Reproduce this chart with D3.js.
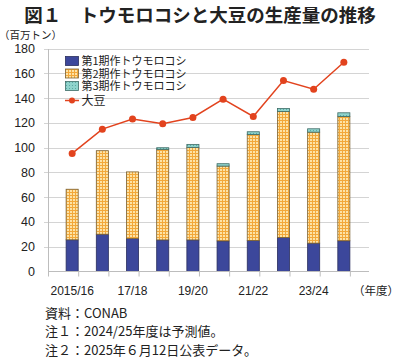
<!DOCTYPE html>
<html><head><meta charset="utf-8">
<script src="https://cdn.jsdelivr.net/npm/d3@7"></script>
<style>
body{margin:0;background:#fff;}
text{font-family:"Noto Sans CJK JP","Noto Sans",sans-serif;}
</style></head>
<body><svg id="c" width="400" height="357"></svg>
<script>
const categories = ["2015/16","2016/17","2017/18","2018/19","2019/20","2020/21","2021/22","2022/23","2023/24","2024/25"];
const tickLabels = ["2015/16","","17/18","","19/20","","21/22","","23/24",""];
const crop1 = [25.6, 30.1, 26.6, 25.5, 25.5, 24.7, 25.0, 27.4, 22.9, 24.8];
const crop2 = [40.8, 67.4, 53.8, 73.1, 74.7, 60.4, 85.6, 101.8, 89.6, 100.4];
const crop3 = [0, 0, 0, 1.3, 2.4, 1.9, 2.2, 2.4, 2.7, 2.9];
const soy = [95.3, 114.9, 123.0, 119.2, 124.3, 139.1, 125.1, 154.1, 147.1, 168.9];
const yTicks = [0,20,40,60,80,100,120,140,160,180];
const legendLabels = ["第1期作トウモロコシ","第2期作トウモロコシ","第3期作トウモロコシ","大豆"];
const notes = ["資料：CONAB","注１：2024/25年度は予測値。","注２：2025年６月12日公表データ。"];

const svg = d3.select("#c");
const defs = svg.append("defs");
const p2 = defs.append("pattern").attr("id","p2").attr("patternUnits","userSpaceOnUse").attr("width",3).attr("height",3);
p2.append("rect").attr("width",3).attr("height",3).attr("fill","#fde3a6");
p2.append("path").attr("d","M0,0.5H3M0.5,0V3").attr("stroke","#f2a83a").attr("stroke-width",1);
const p3 = defs.append("pattern").attr("id","p3").attr("patternUnits","userSpaceOnUse").attr("width",3).attr("height",3);
p3.append("rect").attr("width",3).attr("height",3).attr("fill","#8fd3cc");
p3.append("rect").attr("x",1).attr("y",1).attr("width",1).attr("height",1).attr("fill","#5aa9a3");

const x = d3.scaleBand().domain(categories).range([48,368]).padding(0.6);
const y = d3.scaleLinear().domain([0,180]).range([271.5,48.5]);

// title
svg.append("text").attr("x",200).attr("y",22).attr("text-anchor","middle")
  .attr("font-size",18.5).attr("font-weight","bold").attr("fill","#222")
  .text("図１　トウモロコシと大豆の生産量の推移");
svg.append("text").attr("x",-1).attr("y",39).attr("font-size",10.5).attr("fill","#222").text("（百万トン）");

// grid
svg.append("g").selectAll("line").data(yTicks.filter(d=>d>0)).join("line")
  .attr("x1",44).attr("x2",369).attr("y1",d=>Math.round(y(d))+0.5).attr("y2",d=>Math.round(y(d))+0.5)
  .attr("stroke","#d4d4d4").attr("stroke-width",1);
// y axis
const ya = svg.append("g").attr("transform","translate(48,0)")
  .call(d3.axisLeft(y).tickValues(yTicks).tickSize(0).tickPadding(13));
ya.select(".domain").attr("stroke","#bdbdbd");
ya.selectAll("text").attr("font-size",12.5).attr("fill","#222").style("font-family","'Liberation Sans',Arial,sans-serif");

// stacks
const data = categories.map((c,i)=>({c, a:crop1[i], b:crop2[i], d:crop3[i]}));
const stack = d3.stack().keys(["a","b","d"])(data);
const fills = ["#3c479b","url(#p2)","url(#p3)"];
const strokes = ["#2a2f5e","#7a6235","#3d6b66"];
stack.forEach((layer,k)=>{
  svg.append("g").selectAll("rect").data(layer.filter(s=>s[1]-s[0]>0)).join("rect")
    .attr("x",s=>x(s.data.c)).attr("width",x.bandwidth())
    .attr("y",s=>y(s[1])).attr("height",s=>y(s[0])-y(s[1]))
    .attr("fill",fills[k]).attr("stroke",strokes[k]).attr("stroke-width",0.8);
});

// x axis
const xa = svg.append("g").attr("transform","translate(0,271.5)");
xa.append("line").attr("x1",48).attr("x2",369).attr("stroke","#bdbdbd");
const step = x.step();
xa.selectAll("line.t").data(d3.range(11)).join("line").attr("class","t")
  .attr("x1",i=>48+i*step+0.5).attr("x2",i=>48+i*step+0.5).attr("y1",0).attr("y2",5).attr("stroke","#bdbdbd");
xa.selectAll("text").data(categories).join("text")
  .attr("x",c=>x(c)+x.bandwidth()/2).attr("y",23).attr("text-anchor","middle")
  .attr("font-size",12).attr("fill","#222").style("font-family","'Liberation Sans',Arial,sans-serif")
  .text((c,i)=>tickLabels[i]);
svg.append("text").attr("x",399).attr("y",294.5).attr("text-anchor","end").attr("font-size",11.5).attr("fill","#222").text("（年度）");

// soy line
const line = d3.line().x((d,i)=>x(categories[i])+x.bandwidth()/2).y(d=>y(d));
svg.append("path").datum(soy).attr("d",line).attr("fill","none").attr("stroke","#e2431e").attr("stroke-width",1.5);
svg.append("g").selectAll("circle").data(soy).join("circle")
  .attr("cx",(d,i)=>x(categories[i])+x.bandwidth()/2).attr("cy",d=>y(d)).attr("r",3.5).attr("fill","#e2431e");

// legend
const lg = svg.append("g").attr("transform","translate(65,0)");
const ly = [61,73.5,86,100.5];
[0,1,2].forEach(k=>{
  lg.append("rect").attr("x",0.5).attr("y",ly[k]-4.5).attr("width",13).attr("height",9)
    .attr("fill",fills[k]).attr("stroke",strokes[k]).attr("stroke-width",0.8);
});
lg.append("line").attr("x1",0).attr("x2",14).attr("y1",ly[3]).attr("y2",ly[3]).attr("stroke","#e2431e").attr("stroke-width",1.5);
lg.append("circle").attr("cx",7).attr("cy",ly[3]).attr("r",3).attr("fill","#e2431e");
lg.selectAll("text").data(legendLabels).join("text")
  .attr("x",16.5).attr("y",(d,i)=>ly[i]+4).attr("font-size",(d,i)=>i===3?12:11).attr("fill","#222").text(d=>d);

// notes
svg.append("g").selectAll("text").data(notes).join("text")
  .attr("x",45).attr("y",(d,i)=>317.5+i*18.5).attr("font-size",13).attr("fill","#222").text(d=>d);
</script></body></html>
